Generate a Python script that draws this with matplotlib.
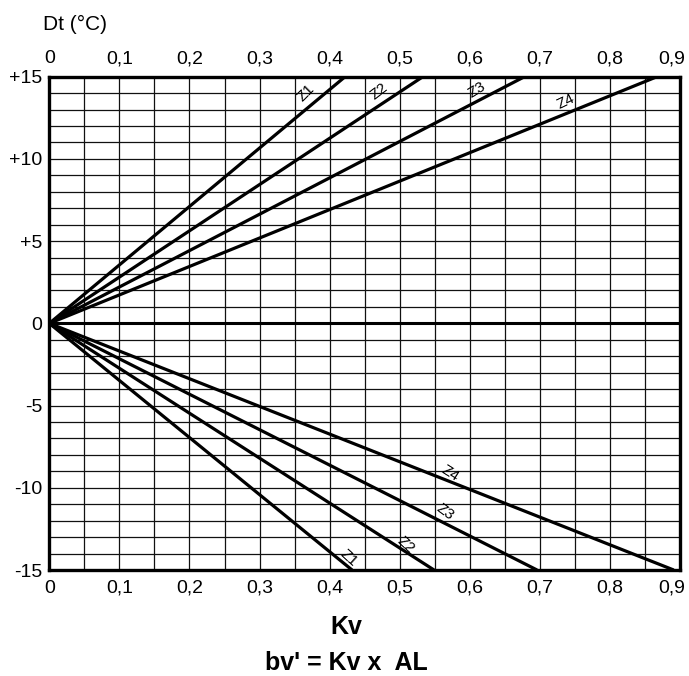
import numpy as np
import matplotlib
matplotlib.use('Agg')
import matplotlib.pyplot as plt
import matplotlib.transforms as mtransforms

plt.rcParams['font.family'] = ['Liberation Sans', 'DejaVu Sans']

# Kv values where each curve reaches +15 / -15 degC
zones = ['Z1', 'Z2', 'Z3', 'Z4']
kv_top = [0.422, 0.533, 0.678, 0.867]
kv_bottom = [0.432, 0.549, 0.696, 0.891]
dt_max = 15

# label positions (Kv, Dt) and angles
lab_top_x = [0.366, 0.470, 0.610, 0.737]
lab_top_y = [14.0, 14.1, 14.2, 13.5]
lab_top_rot = [45, 38, 32, 26]
lab_bot_x = [0.427, 0.508, 0.565, 0.572]
lab_bot_y = [-14.3, -13.5, -11.5, -9.15]
lab_bot_rot = [-42, -42, -36, -32]

x_ticks = [0, 0.1, 0.2, 0.3, 0.4, 0.5, 0.6, 0.7, 0.8, 0.9]
x_labels = ['0', '0,1', '0,2', '0,3', '0,4', '0,5', '0,6', '0,7', '0,8', '0,9']
y_ticks = [15, 10, 5, 0, -5, -10, -15]
y_labels = ['+15', '+10', '+5', '0', '-5', '-10', '-15']

fig = plt.figure(figsize=(6.89, 6.76), dpi=100)
ax = fig.add_axes([0.0716, 0.1568, 0.9154, 0.7297])

ax.set_xlim(0, 0.9)
ax.set_ylim(-15, 15)

ax.set_xticks(x_ticks)
ax.set_xticklabels(x_labels)
ax.set_xticks(np.arange(0, 0.901, 0.05), minor=True)
ax.set_yticks(y_ticks)
ax.set_yticklabels(y_labels)
ax.set_yticks(np.arange(-15, 16, 1), minor=True)

ax.tick_params(which='both', length=0, labelsize=14, top=True, labeltop=True)
ax.tick_params(axis='x', pad=7)
ax.tick_params(axis='y', pad=5)
ax.grid(which='both', color='#111111', lw=0.9)
ax.set_axisbelow(True)

# last Kv label sits a little left of its grid line, as in the original
fig.canvas.draw()
shift = mtransforms.ScaledTranslation(-8 / 100, 0, fig.dpi_scale_trans)
last = ax.xaxis.get_major_ticks()[-1]
last.label1.set_transform(last.label1.get_transform() + shift)
last.label2.set_transform(last.label2.get_transform() + shift)

for s in ax.spines.values():
    s.set_linewidth(2.4)

ax.axhline(0, color='black', lw=2.2)

for i in range(len(zones)):
    ax.plot([0, kv_top[i]], [0, dt_max], color='black', lw=2.3, solid_capstyle='butt')
    ax.plot([0, kv_bottom[i]], [0, -dt_max], color='black', lw=2.3, solid_capstyle='butt')
    ax.text(lab_top_x[i], lab_top_y[i], zones[i], fontsize=11, rotation=lab_top_rot[i],
            ha='center', va='center')
    ax.text(lab_bot_x[i], lab_bot_y[i], zones[i], fontsize=11, rotation=lab_bot_rot[i],
            ha='center', va='center')

fig.text(0.062, 0.964, 'Dt (°C)', fontsize=15, ha='left', va='center')
fig.text(0.503, 0.072, 'Kv', fontsize=18, fontweight='bold', ha='center', va='center')
fig.text(0.503, 0.009, "bv' = Kv x  AL", fontsize=18, fontweight='bold', ha='center', va='baseline')

fig.savefig('out.png', dpi=100)
